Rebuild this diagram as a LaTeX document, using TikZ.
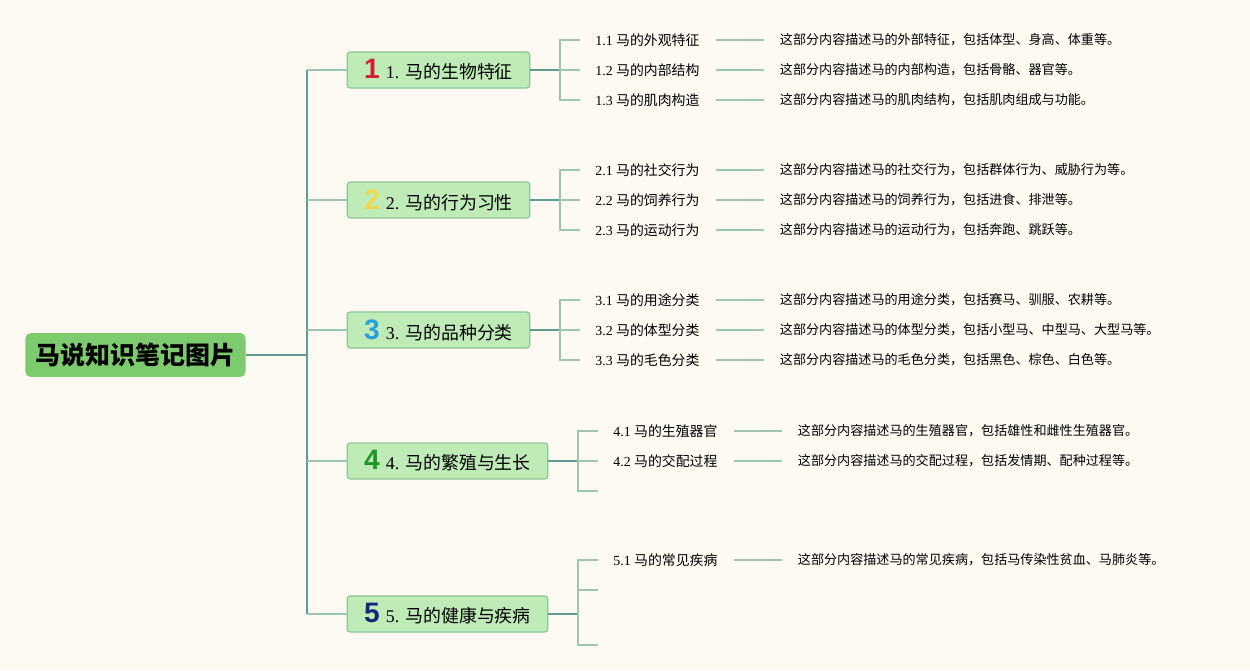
\documentclass[tikz,border=0pt]{standalone}
\usepackage{fontspec}
\setmainfont{Liberation Serif}
\newfontfamily\cjk{Noto Sans CJK SC}
\newfontfamily\numfont{Liberation Sans}
\usepackage{tikz}
\usetikzlibrary{positioning}

\definecolor{bgcol}{RGB}{253,251,241}
\definecolor{rootfill}{RGB}{125,203,110}
\definecolor{topicfill}{RGB}{190,235,182}
\definecolor{topicdraw}{RGB}{141,196,154}
\definecolor{stemcol}{RGB}{96,156,146}
\definecolor{twigcol}{RGB}{158,197,175}
\definecolor{numred}{RGB}{214,30,50}
\definecolor{numyellow}{RGB}{240,216,80}
\definecolor{numblue}{RGB}{40,160,220}
\definecolor{numgreen}{RGB}{30,150,40}
\definecolor{numnavy}{RGB}{20,40,120}

\newcommand{\topicnum}[2]{{\numfont\bfseries\fontsize{16}{16}\selectfont\color{#1}#2}\hspace{3.5pt}}

\tikzset{
    root/.style = {fill=rootfill, rounded corners=3pt, minimum width=125.3pt, minimum height=25pt, inner xsep=2pt, font=\cjk\bfseries\fontsize{14.2}{17}\selectfont},
    topic/.style = {draw=topicdraw, fill=topicfill, line width=0.7pt, rounded corners=1.5pt, minimum height=20.4pt, inner sep=0pt, font=\fontsize{10.2}{12}\selectfont},
    sub/.style = {inner sep=0pt, anchor=west, font=\fontsize{7.9}{9}\selectfont},
    desc/.style = {inner sep=0pt, font=\cjk\fontsize{7.45}{9}\selectfont},
    stem/.style = {draw=stemcol, line width=1.1pt},
    twig/.style = {draw=twigcol, line width=0.9pt},
    tip/.style = {twig, shorten >=8.5pt},
    gap/.style = {twig, shorten <=9pt, shorten >=9pt}
}

\begin{document}
\begin{tikzpicture}[x=0.02cm, y=-0.02cm]
    \fill[bgcol] (0,0) rectangle (1250,670);

    \node[root] (root) at (135.5,355) {马说知识笔记图片};
    \coordinate (hub) at (307,355);

    \node[topic, minimum width=103.8pt] (b1) at (438.5,70) {\topicnum{numred}{1}1. {\cjk 马的生物特征}};
    \node[topic, minimum width=103.8pt] (b2) at (438.5,200) {\topicnum{numyellow}{2}2. {\cjk 马的行为习性}};
    \node[topic, minimum width=103.8pt] (b3) at (438.5,330) {\topicnum{numblue}{3}3. {\cjk 马的品种分类}};
    \node[topic, minimum width=114pt] (b4) at (447.5,461) {\topicnum{numgreen}{4}4. {\cjk 马的繁殖与生长}};
    \node[topic, minimum width=114pt] (b5) at (447.5,614) {\topicnum{numnavy}{5}5. {\cjk 马的健康与疾病}};

    % forks behind the topics
    \coordinate (f1) at (560,70);
    \coordinate (f2) at (560,200);
    \coordinate (f3) at (560,330);
    \coordinate (f4) at (578,461);
    \coordinate (f5) at (578,614);

    \node[sub] (s11) at (595,40) {1.1 {\cjk 马的外观特征}};
    \node[sub] (s12) at (595,70) {1.2 {\cjk 马的内部结构}};
    \node[sub] (s13) at (595,100) {1.3 {\cjk 马的肌肉构造}};
    \node[sub] (s21) at (595,170) {2.1 {\cjk 马的社交行为}};
    \node[sub] (s22) at (595,200) {2.2 {\cjk 马的饲养行为}};
    \node[sub] (s23) at (595,230) {2.3 {\cjk 马的运动行为}};
    \node[sub] (s31) at (595,300) {3.1 {\cjk 马的用途分类}};
    \node[sub] (s32) at (595,330) {3.2 {\cjk 马的体型分类}};
    \node[sub] (s33) at (595,360) {3.3 {\cjk 马的毛色分类}};
    \node[sub] (s41) at (613,431) {4.1 {\cjk 马的生殖器官}};
    \node[sub] (s42) at (613,461) {4.2 {\cjk 马的交配过程}};
    \node[sub] (s51) at (613,560) {5.1 {\cjk 马的常见疾病}};
    \coordinate (e43) at (598,491);
    \coordinate (e52) at (598,590);
    \coordinate (e53) at (598,645);

    \node[desc, right=45.4pt of s11] (d11) {这部分内容描述马的外部特征，包括体型、身高、体重等。};
    \node[desc, right=45.4pt of s12] (d12) {这部分内容描述马的内部构造，包括骨骼、器官等。};
    \node[desc, right=45.4pt of s13] (d13) {这部分内容描述马的肌肉结构，包括肌肉组成与功能。};
    \node[desc, right=45.4pt of s21] (d21) {这部分内容描述马的社交行为，包括群体行为、威胁行为等。};
    \node[desc, right=45.4pt of s22] (d22) {这部分内容描述马的饲养行为，包括进食、排泄等。};
    \node[desc, right=45.4pt of s23] (d23) {这部分内容描述马的运动行为，包括奔跑、跳跃等。};
    \node[desc, right=45.4pt of s31] (d31) {这部分内容描述马的用途分类，包括赛马、驯服、农耕等。};
    \node[desc, right=45.4pt of s32] (d32) {这部分内容描述马的体型分类，包括小型马、中型马、大型马等。};
    \node[desc, right=45.4pt of s33] (d33) {这部分内容描述马的毛色分类，包括黑色、棕色、白色等。};
    \node[desc, right=45.4pt of s41] (d41) {这部分内容描述马的生殖器官，包括雄性和雌性生殖器官。};
    \node[desc, right=45.4pt of s42] (d42) {这部分内容描述马的交配过程，包括发情期、配种过程等。};
    \node[desc, right=45.4pt of s51] (d51) {这部分内容描述马的常见疾病，包括马传染性贫血、马肺炎等。};

    % root to topics
    \draw[stem] (root.east) -- (hub);
    \draw[stem] (b1.west -| hub) -- (b5.west -| hub);
    \draw[twig] (b1.west -| hub) -- (b1.west);
    \draw[twig] (b2.west -| hub) -- (b2.west);
    \draw[twig] (b3.west -| hub) -- (b3.west);
    \draw[twig] (b4.west -| hub) -- (b4.west);
    \draw[twig] (b5.west -| hub) -- (b5.west);

    % topics to subtopics
    \draw[stem] (b1.east) -- (f1);
    \draw[stem] (b2.east) -- (f2);
    \draw[stem] (b3.east) -- (f3);
    \draw[stem] (b4.east) -- (f4);
    \draw[stem] (b5.east) -- (f5);
    \draw[tip] (f1) |- (s11.west);
    \draw[tip] (f1) -- (s12.west);
    \draw[tip] (f1) |- (s13.west);
    \draw[tip] (f2) |- (s21.west);
    \draw[tip] (f2) -- (s22.west);
    \draw[tip] (f2) |- (s23.west);
    \draw[tip] (f3) |- (s31.west);
    \draw[tip] (f3) -- (s32.west);
    \draw[tip] (f3) |- (s33.west);
    \draw[tip] (f4) |- (s41.west);
    \draw[tip] (f4) -- (s42.west);
    \draw[twig] (f4) |- (e43);
    \draw[tip] (f5) |- (s51.west);
    \draw[twig] (f5) |- (e52);
    \draw[twig] (f5) |- (e53);

    % subtopics to notes
    \draw[gap] (s11.east) -- (d11.west);
    \draw[gap] (s12.east) -- (d12.west);
    \draw[gap] (s13.east) -- (d13.west);
    \draw[gap] (s21.east) -- (d21.west);
    \draw[gap] (s22.east) -- (d22.west);
    \draw[gap] (s23.east) -- (d23.west);
    \draw[gap] (s31.east) -- (d31.west);
    \draw[gap] (s32.east) -- (d32.west);
    \draw[gap] (s33.east) -- (d33.west);
    \draw[gap] (s41.east) -- (d41.west);
    \draw[gap] (s42.east) -- (d42.west);
    \draw[gap] (s51.east) -- (d51.west);
\end{tikzpicture}
\end{document}
